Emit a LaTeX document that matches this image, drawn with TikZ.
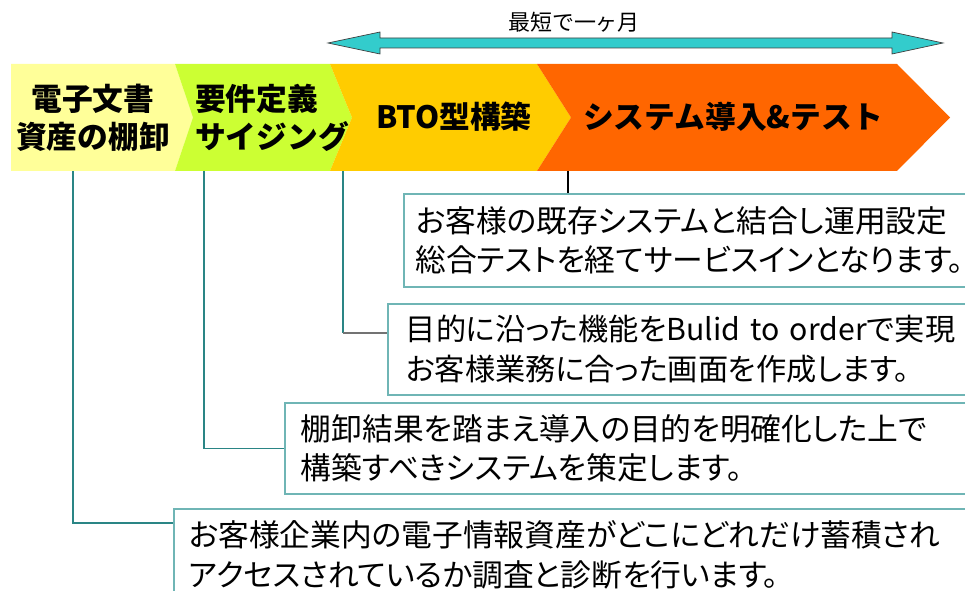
\documentclass[tikz,border=0pt]{standalone}
\usepackage{fontspec}
\setmainfont{Noto Sans CJK JP}
\newfontfamily\calloutfont{Noto Sans CJK JP}[RawFeature=+palt]
\usepackage{tikz}
\usetikzlibrary{positioning}

\definecolor{stageone}{HTML}{FFFF99}
\definecolor{stagetwo}{HTML}{CCFF33}
\definecolor{stagethree}{HTML}{FFCC00}
\definecolor{stagefour}{HTML}{FF6600}
\definecolor{spancyan}{HTML}{33CCCC}
\definecolor{boxteal}{HTML}{6FB5B5}
\definecolor{linkteal}{HTML}{2A8585}

\begin{document}
\begin{tikzpicture}[x=0.02cm,y=-0.02cm,
  stagetext/.style={font=\bfseries\fontsize{17.5}{21.5}\selectfont},
  callout/.style={draw=boxteal, line width=0.9pt, anchor=north west, align=left,
    text width=17cm, font=\calloutfont\fontsize{17.5}{22.5}\selectfont},
  link/.style={draw=linkteal, line width=0.6pt}]
\clip (0,0) rectangle (965,591);

% time span arrow
\filldraw[fill=spancyan, draw=black!75, line width=0.4pt]
  (328,43) -- (380,32) -- (380,38) -- (892,38) -- (892,32) -- (943,43)
  -- (892,54) -- (892,48) -- (380,48) -- (380,54) -- cycle;
\node (span) at (574,22) {\fontsize{12.5}{15}\selectfont 最短で一ヶ月};

% stages
\fill[stageone] (11,64) -- (175,64) -- (193,117.5) -- (175,171) -- (11,171) -- cycle;
\fill[stagetwo] (175,64) -- (330,64) -- (352,117.5) -- (330,171) -- (175,171) -- (193,117.5) -- cycle;
\fill[stagethree] (330,64) -- (537,64) -- (571,117.5) -- (537,171) -- (330,171) -- (352,117.5) -- cycle;
\fill[stagefour] (537,64) -- (897,64) -- (950,117.5) -- (897,171) -- (537,171) -- (571,117.5) -- cycle;

\node[stagetext, align=center] (inventory) at (93,118) {電子文書\\資産の棚卸};
\node[stagetext, align=left, anchor=west] (sizing) at (189,118) {要件定義\\サイジング};
\node[stagetext] (bto) at (454,117) {BTO型構築};
\node[stagetext] (install) at (733,117) {システム導入\&テスト};

\coordinate (t1) at (73,171);
\coordinate (t2) at (204,171);
\coordinate (t3) at (343,171);
\coordinate (t4) at (568,171);

% descriptions
\node[callout, inner xsep=0.24cm, minimum height=1.86cm] (b1) at (403,193)
  {お客様の既存システムと結合し運用設定\\総合テストを経てサービスインとなります。};
\node[callout, inner xsep=0.36cm, minimum height=1.82cm, font=\calloutfont\fontsize{17.2}{22.5}\selectfont] (b2) at (387,303)
  {目的に沿った機能をBulid to orderで実現\\お客様業務に合った画面を作成します。};
\node[callout, inner xsep=0.32cm, minimum height=1.82cm] (b3) at (284,402)
  {棚卸結果を踏まえ導入の目的を明確化した上で\\構築すべきシステムを策定します。};
\node[callout, inner xsep=0.30cm, minimum height=1.84cm] (b4) at (173,508)
  {お客様企業内の電子情報資産がどこにどれだけ蓄積され\\アクセスされているか調査と診断を行います。};

% links
\draw[line width=0.6pt] (t4) -- (t4 |- b1.north);
\path ([yshift=-0.6cm]b2.north west) coordinate (e2);
\coordinate (k2) at (t3 |- e2);
\draw[link] (t3) -- (k2);
\draw[draw=black!55, line width=1.1pt] (k2) -- (e2);
\draw[link] (t2) |- (b3.west);
\draw[link] (t1) |- ([yshift=-0.3cm]b4.north west);
\end{tikzpicture}
\end{document}
